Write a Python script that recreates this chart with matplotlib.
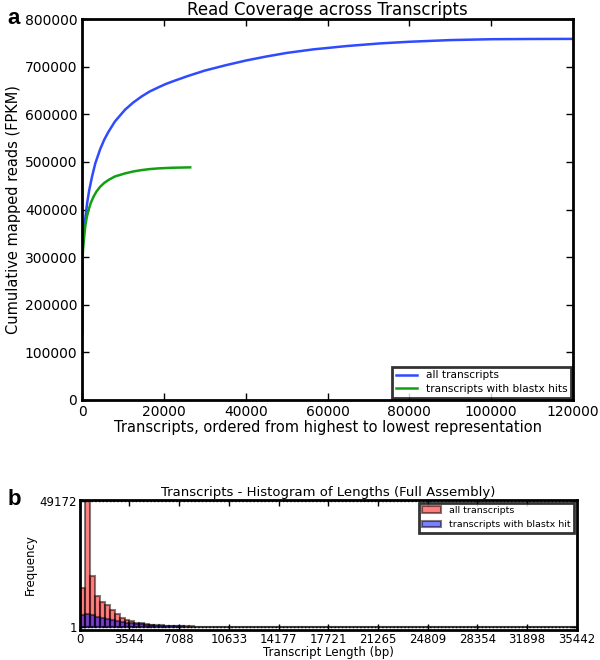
import numpy as np
from matplotlib import pyplot as plt
from matplotlib.patches import Patch

# panel a: cumulative mapped reads
all_x = [0, 50, 150, 300, 500, 800, 1200, 1700, 2400, 3200, 4400, 5400, 6400,
         8000, 10500, 12500, 14600, 16500, 18700, 20500, 22700, 26000, 30000,
         35000, 40000, 45000, 50000, 56500, 64700, 72800, 80000, 90000, 100000,
         110000, 120000]
all_y = [140000, 270000, 320000, 345000, 362000, 385000, 413000, 440000, 469000,
         497000, 527000, 547000, 563000, 585000, 610000, 625000, 638000, 648000,
         657000, 664000, 671000, 681000, 692000, 703000, 713000, 721500, 729000,
         736500, 743500, 749000, 752500, 756000, 757800, 758300, 758500]
blast_x = [0, 30, 80, 200, 330, 500, 730, 1100, 1550, 2100, 2770, 3500, 4400,
           5400, 6400, 8000, 10500, 12500, 14600, 16500, 18700, 22000, 26400]
blast_y = [140000, 250000, 294000, 316000, 329000, 344000, 364000, 383000, 399000,
           414000, 427000, 438000, 448000, 456000, 462000, 469500, 476000, 480000,
           483000, 485000, 486500, 487800, 488600]

# panel b: histogram of transcript lengths, 100 bins up to max length
max_len = 35442
n_bins = 100
all_counts = [15300, 49172, 20000, 12100, 9900, 8400, 6500, 5000, 3600, 2800,
              2200, 1700, 1400, 1100, 880, 700, 560, 450, 360, 290,
              235, 190, 155, 125, 100, 82, 66, 55, 46, 38,
              32, 27, 22, 18, 15, 13, 11, 9, 8, 7,
              6, 5, 4, 4, 3, 3, 2, 2, 2, 1,
              1, 2, 1, 1, 1, 1, 0, 1, 1, 0,
              1, 0, 1, 0, 0, 1, 0, 0, 0, 1,
              0, 0, 0, 0, 0, 0, 0, 0, 0, 0,
              0, 0, 0, 0, 0, 0, 0, 0, 0, 0,
              0, 0, 0, 0, 0, 0, 0, 0, 0, 1]
blast_counts = [4600, 5000, 4700, 4000, 3600, 3100, 2700, 2300, 1950, 1650,
                1380, 1150, 950, 780, 640, 520, 420, 340, 280, 230,
                185, 150, 120, 100, 80, 65, 52, 42, 34, 28,
                23, 19, 15, 12, 10, 8, 7, 6, 5, 4,
                3, 3, 2, 2, 2, 1, 1, 1, 1, 1,
                1, 1, 0, 1, 0, 1, 0, 1, 0, 0,
                1, 0, 1, 0, 0, 1, 0, 0, 0, 0,
                0, 0, 0, 0, 0, 0, 0, 0, 0, 0,
                0, 0, 0, 0, 0, 0, 0, 0, 0, 0,
                0, 0, 0, 0, 0, 0, 0, 0, 0, 1]

fig = plt.figure(figsize=(6, 6.6), dpi=100)

# ---- panel a
ax = fig.add_axes([0.137, 0.394, 0.818, 0.577])
ax.plot(all_x, all_y, color='#2f4bff', lw=1.8, label='all transcripts')
ax.plot(blast_x, blast_y, color='#12a012', lw=1.8, label='transcripts with blastx hits')
ax.set_xlim(0, 120000)
ax.set_ylim(0, 800000)
ax.set_xticks(np.arange(0, 120001, 20000))
ax.set_yticks(np.arange(0, 800001, 100000))
ax.tick_params(direction='in', top=True, right=True, length=5, width=1, labelsize=10)
for s in ax.spines.values():
    s.set_linewidth(2)
ax.set_title('Read Coverage across Transcripts', fontsize=12, pad=3)
ax.set_xlabel('Transcripts, ordered from highest to lowest representation', fontsize=10.5, labelpad=1)
ax.set_ylabel('Cumulative mapped reads (FPKM)', fontsize=10.5, labelpad=3)
leg = ax.legend(loc='lower right', fontsize=7.6, fancybox=False, borderaxespad=0.2,
                handlelength=2, edgecolor='black', borderpad=0.35, labelspacing=0.35)
leg.get_frame().set_linewidth(2)

# ---- panel b
bx = fig.add_axes([0.133, 0.0455, 0.828, 0.197])
edges = np.linspace(0, max_len, n_bins + 1)
width = edges[1] - edges[0]
bx.bar(edges[:-1], all_counts, width=width, align='edge', color='red',
       edgecolor='black', linewidth=1.5, alpha=0.5)
bx.bar(edges[:-1], blast_counts, width=width, align='edge', color='blue',
       edgecolor='black', linewidth=1.5, alpha=0.5)
bx.set_xlim(0, max_len)
bx.set_ylim(-1200, 49500)
xt = np.linspace(0, max_len, 11)
bx.set_xticks(xt)
bx.set_xticklabels([str(int(round(v))) for v in xt])
bx.set_yticks([1, 49172])
bx.grid(axis='y', linestyle=':', color='black', linewidth=1)
bx.tick_params(direction='in', top=True, right=True, length=4, width=1, labelsize=8.5, pad=2)
for s in bx.spines.values():
    s.set_linewidth(2)
bx.set_title('Transcripts - Histogram of Lengths (Full Assembly)', fontsize=9.5, pad=3)
bx.set_xlabel('Transcript Length (bp)', fontsize=8.5, labelpad=0)
bx.set_ylabel('Frequency', fontsize=8.5, labelpad=2)
handles = [Patch(facecolor='red', edgecolor='black', alpha=0.5, linewidth=1.5),
           Patch(facecolor='blue', edgecolor='black', alpha=0.5, linewidth=1.5)]
leg2 = bx.legend(handles, ['all transcripts', 'transcripts with blastx hit'], loc='upper right',
                 fontsize=6.8, fancybox=False, edgecolor='black', borderaxespad=0.3,
                 handlelength=2, labelspacing=0.55, borderpad=0.35)
leg2.get_frame().set_linewidth(2)

fig.text(0.013, 0.972, 'a', fontsize=16, fontweight='bold', family='Liberation Sans', va='center')
fig.text(0.013, 0.243, 'b', fontsize=16, fontweight='bold', family='Liberation Sans', va='center')

fig.savefig('out.png', dpi=100)
